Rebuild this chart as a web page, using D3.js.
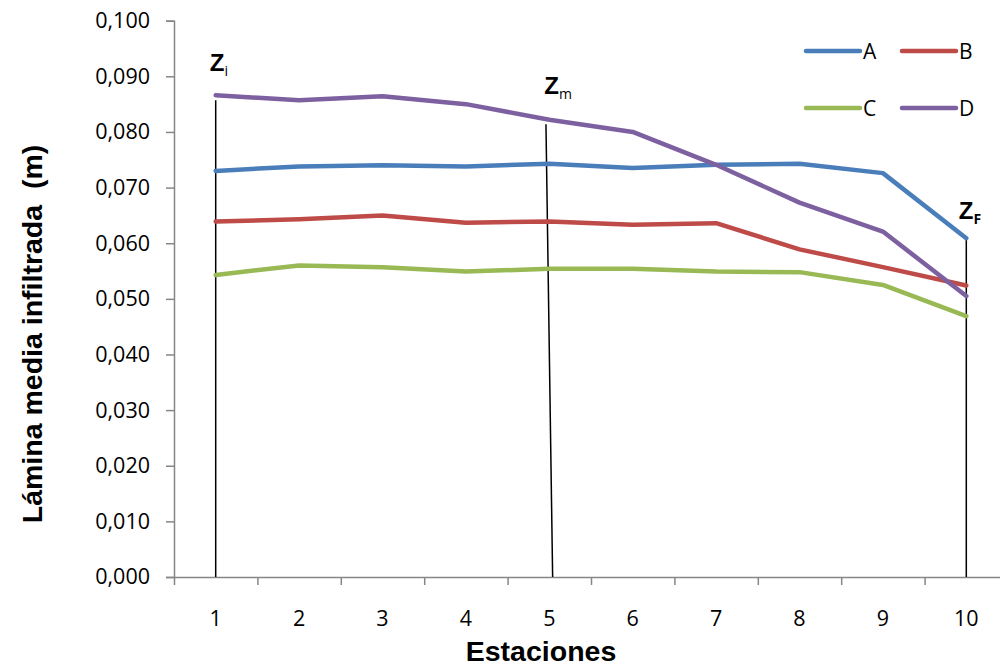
<!DOCTYPE html>
<html>
<head>
<meta charset="utf-8">
<script src="https://cdn.jsdelivr.net/npm/d3@7"></script>
<style>
  html, body { margin: 0; padding: 0; background: #fff; }
  svg { display: block; }
</style>
</head>
<body>
<svg id="chart" width="1000" height="666"></svg>
<script>
// Estaciones 1..10
const stations = [1, 2, 3, 4, 5, 6, 7, 8, 9, 10];

// Lámina media infiltrada (m) por tratamiento
const serieA = [0.0730, 0.0738, 0.0740, 0.0738, 0.0743, 0.0735, 0.0741, 0.0743, 0.0726, 0.0609];
const serieB = [0.0639, 0.0643, 0.0650, 0.0637, 0.0639, 0.0633, 0.0636, 0.0589, 0.0557, 0.0524];
const serieC = [0.0543, 0.0560, 0.0557, 0.0549, 0.0554, 0.0554, 0.0549, 0.0548, 0.0525, 0.0469];
const serieD = [0.0866, 0.0857, 0.0864, 0.0850, 0.0822, 0.0800, 0.0741, 0.0673, 0.0621, 0.0505];

const seriesNames = ["A", "B", "C", "D"];
const seriesColors = ["#4a7ebb", "#be4b48", "#98b954", "#7d60a0"];

const yTicks = [0, 0.01, 0.02, 0.03, 0.04, 0.05, 0.06, 0.07, 0.08, 0.09, 0.1];

// Vertical reference lines: initial, middle and final zone
// (station and value at top, station and value at bottom)
const zoneNames = ["Z", "Z", "Z"];
const zoneSubs = ["i", "m", "F"];
const zoneTop = [[1, 0.0857], [4.96, 0.0814], [10, 0.0609]];
const zoneBottom = [[1, 0], [5.04, 0], [10, 0]];

const svg = d3.select("#chart");
const axisColor = "#868686";

const x = d3.scaleLinear().domain([0.5, 10.5]).range([174, 1008]);
const y = d3.scaleLinear().domain([0, 0.1]).range([577, 20.7]);

const fmt = v => d3.format(".3f")(v).replace(".", ",");

// Y axis
const yAxis = svg.append("g")
  .attr("transform", `translate(${x(0.5)},0)`)
  .call(d3.axisLeft(y).tickValues(yTicks).tickFormat(fmt).tickSize(8).tickPadding(16));
yAxis.select(".domain").attr("stroke", axisColor).attr("stroke-width", 1.5);
yAxis.selectAll(".tick line").attr("stroke", axisColor).attr("stroke-width", 1.5);
yAxis.selectAll(".tick text")
  .attr("font-family", "'Open Sans', sans-serif")
  .attr("font-size", 21.5).attr("fill", "#000");

// X axis: ticks between stations, labels centred on stations
const xAxisG = svg.append("g").attr("transform", `translate(0,${y(0)})`);
xAxisG.call(d3.axisBottom(x)
  .tickValues(d3.range(0.5, 11, 1))
  .tickFormat("").tickSize(8).tickSizeOuter(0));
xAxisG.select(".domain").attr("stroke", axisColor).attr("stroke-width", 1.5);
xAxisG.selectAll(".tick line").attr("stroke", axisColor).attr("stroke-width", 1.5);
xAxisG.selectAll(".lbl")
  .data(stations)
  .enter().append("text")
  .attr("class", "lbl")
  .attr("x", d => x(d))
  .attr("y", 49)
  .attr("text-anchor", "middle")
  .attr("font-family", "'Open Sans', sans-serif")
  .attr("font-size", 21.5)
  .attr("fill", "#000")
  .text(d => d);

// Axis titles
svg.append("text")
  .attr("x", 541).attr("y", 661)
  .attr("text-anchor", "middle")
  .attr("font-family", "'Liberation Sans', Arial, sans-serif")
  .attr("font-weight", "bold").attr("font-size", 28.5)
  .text("Estaciones");

svg.append("text")
  .attr("transform", "translate(42,334) rotate(-90)")
  .attr("text-anchor", "middle")
  .attr("font-family", "'Liberation Sans', Arial, sans-serif")
  .attr("font-weight", "bold").attr("font-size", 28.5)
  .attr("xml:space", "preserve")
  .style("white-space", "pre")
  .text("Lámina media infiltrada  (m)");

// Zone reference lines
zoneTop.forEach((t, i) => {
  const b = zoneBottom[i];
  svg.append("line")
    .attr("x1", x(t[0])).attr("y1", y(t[1]))
    .attr("x2", x(b[0])).attr("y2", y(b[1]))
    .attr("stroke", "#000").attr("stroke-width", 1.5);
});

// Data lines
const allSeries = [serieA, serieB, serieC, serieD];
const line = d3.line().x((d, i) => x(stations[i])).y(d => y(d));
allSeries.forEach((s, i) => {
  svg.append("path")
    .datum(s)
    .attr("d", line)
    .attr("fill", "none")
    .attr("stroke", seriesColors[i])
    .attr("stroke-width", 4.5)
    .attr("stroke-linejoin", "round")
    .attr("stroke-linecap", "round");
});

// Zone labels
const zoneLabelPos = [[0.93, 0.0910], [4.94, 0.0868], [9.91, 0.0644]];
zoneLabelPos.forEach((p, i) => {
  const t = svg.append("text")
    .attr("x", x(p[0])).attr("y", y(p[1]))
    .attr("font-family", "'Liberation Sans', Arial, sans-serif")
    .attr("font-weight", "bold").attr("font-size", 24)
    .attr("fill", "#000");
  t.append("tspan").text(zoneNames[i]);
  t.append("tspan")
    .attr("dy", 5)
    .attr("font-size", 14)
    .attr("font-weight", zoneSubs[i] === "F" ? "bold" : "normal")
    .attr("font-family", "'Open Sans', sans-serif")
    .text(zoneSubs[i]);
});

// Legend: two columns, two rows
const legend = svg.append("g");
seriesNames.forEach((name, i) => {
  const col = i % 2, row = Math.floor(i / 2);
  const lx = 806 + col * 96, ly = 51 + row * 57;
  legend.append("line")
    .attr("x1", lx).attr("x2", lx + 54)
    .attr("y1", ly).attr("y2", ly)
    .attr("stroke", seriesColors[i]).attr("stroke-width", 4.5)
    .attr("stroke-linecap", "round");
  legend.append("text")
    .attr("x", lx + 57).attr("y", ly + 8)
    .attr("font-family", "'Open Sans', sans-serif")
    .attr("font-size", 21).attr("fill", "#000")
    .text(name);
});
</script>
</body>
</html>
